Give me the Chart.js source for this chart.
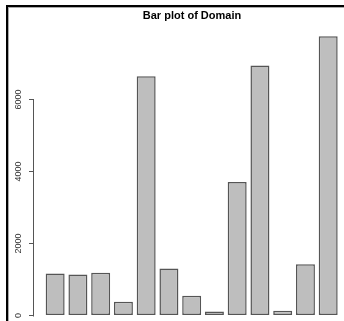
<!DOCTYPE html>
<html>
<head>
<meta charset="utf-8">
<script src="https://cdn.jsdelivr.net/npm/chart.js@4/dist/chart.umd.min.js"></script>
<style>
  html, body { margin: 0; padding: 0; background: #fff; overflow: hidden; }
  #wrap { position: relative; width: 344px; height: 321px; overflow: hidden; }
  #frame {
    position: absolute; left: 6px; top: 5px; width: 400px; height: 400px;
    border-left: 2px solid #000; border-top: 2px solid #000;
    box-shadow: inset 1px 1px 0 #aaa; pointer-events: none;
  }
</style>
</head>
<body>
<div id="wrap">
  <canvas id="domainChart" width="350" height="321"></canvas>
  <div id="frame"></div>
</div>
<script>
// === Bar plot of Domain ===
const domains = ['D1', 'D2', 'D3', 'D4', 'D5', 'D6', 'D7', 'D8', 'D9', 'D10', 'D11', 'D12', 'D13'];
const counts = [1170, 1142, 1189, 387, 6640, 1308, 553, 111, 3706, 6943, 138, 1427, 7753];
const yTicks = [0, 2000, 4000, 6000];

// R barplot layout: width 1, space 0.2, so bar i sits at 0.7 + 1.2 * i
const barSpace = 0.2;
const barWidth = 1;
const barMids = domains.map((_, i) => barSpace + barWidth / 2 + i * (barWidth + barSpace));

Chart.defaults.font.family = '"Liberation Sans", Arial, sans-serif';

// partial y axis line, like R draws it (only from first to last tick)
const rAxisLine = {
  id: 'rAxisLine',
  afterDraw(chart) {
    const y = chart.scales.y;
    const ctx = chart.ctx;
    const x = Math.round(y.right) - 0.5;
    ctx.save();
    ctx.strokeStyle = '#555';
    ctx.lineWidth = 1;
    ctx.beginPath();
    ctx.moveTo(x, Math.round(y.getPixelForValue(yTicks[0])) + 0.5);
    ctx.lineTo(x, Math.round(y.getPixelForValue(yTicks[yTicks.length - 1])) + 0.5);
    ctx.stroke();
    ctx.restore();
  }
};

new Chart(document.getElementById('domainChart'), {
  type: 'bar',
  data: {
    labels: domains,
    datasets: [{
      label: 'Domain',
      data: counts.map((v, i) => ({ x: barMids[i], y: v })),
      backgroundColor: '#bebebe',
      borderColor: '#555',
      borderWidth: 1.5,
      borderSkipped: false,
      categoryPercentage: 1,
      barPercentage: barWidth / (barWidth + barSpace)
    }]
  },
  options: {
    responsive: false,
    animation: false,
    layout: { padding: { left: 0, right: 0, top: 0, bottom: 5 } },
    plugins: {
      legend: { display: false },
      tooltip: { enabled: false },
      title: {
        display: true,
        text: 'Bar plot of Domain',
        fullSize: false,
        color: '#000',
        font: { size: 11, weight: 'bold' },
        padding: { top: 9, bottom: 3 }
      }
    },
    scales: {
      x: {
        type: 'linear',
        display: false,
        offset: false,
        min: -0.416,
        max: 16.25,
        afterBuildTicks: s => { s.ticks = barMids.map(v => ({ value: v })); }
      },
      y: {
        min: 0,
        max: 8060,
        afterBuildTicks: s => { s.ticks = yTicks.map(v => ({ value: v })); },
        afterFit: s => { s.width = 34; },
        border: { display: false },
        grid: {
          drawOnChartArea: false,
          drawTicks: true,
          tickLength: 5,
          color: '#555'
        },
        ticks: {
          minRotation: 90,
          maxRotation: 90,
          crossAlign: 'center',
          padding: 0,
          color: '#333',
          font: { size: 9 },
          callback: v => String(v)
        }
      }
    }
  },
  plugins: [rAxisLine]
});
</script>
</body>
</html>
